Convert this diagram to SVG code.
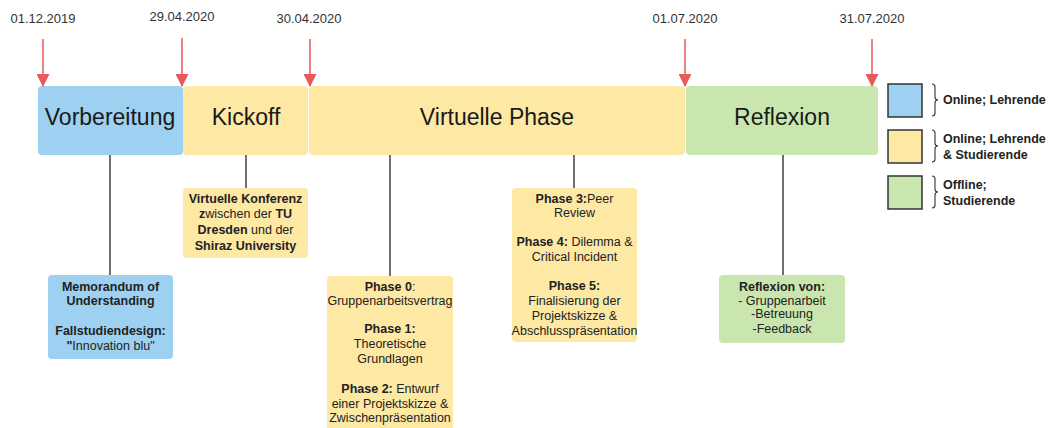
<svg xmlns="http://www.w3.org/2000/svg" width="1055" height="428" viewBox="0 0 1055 428">
  <defs>
    <style>
      .date { font-family: "Liberation Sans", Arial, sans-serif; font-size: 13px; fill: #333; text-anchor: middle; }
      .phase { font-family: "Liberation Sans", Arial, sans-serif; font-size: 23px; fill: #1a1a1a; text-anchor: middle; }
      .note { font-family: "Liberation Sans", Arial, sans-serif; font-size: 12.5px; fill: #222; text-anchor: middle; }
      .legend { font-family: "Liberation Sans", Arial, sans-serif; font-size: 12.5px; font-weight: bold; fill: #222; }
      .b { font-weight: bold; }
      .blue { fill: #9dd0f1; }
      .yellow { fill: #fde8a4; }
      .green { fill: #c9e6ae; }
      .conn { stroke: #222; stroke-width: 1.3; fill: none; }
      .marker-line { stroke: #e85a5a; stroke-width: 1.5; fill: none; }
      .swatch { stroke: #333; stroke-width: 1.5; }
      .brace { stroke: #333; stroke-width: 1.1; fill: none; }
    </style>
    <!-- triangle pointing along the line direction, tip at the line end -->
    <marker id="redhead" viewBox="0 0 13 13" markerWidth="13" markerHeight="13" refX="12" refY="6.5" orient="auto" markerUnits="userSpaceOnUse">
      <path d="M0,0 L13,6.5 L0,13 Z" fill="#e85a5a"/>
    </marker>
  </defs>

  <!-- date labels -->
  <g id="dates">
    <text class="date" x="43" y="23">01.12.2019</text>
    <text class="date" x="182" y="21">29.04.2020</text>
    <text class="date" x="309" y="23">30.04.2020</text>
    <text class="date" x="685" y="23">01.07.2020</text>
    <text class="date" x="872" y="23">31.07.2020</text>
  </g>

  <!-- timeline phases -->
  <g id="vorbereitung">
    <rect class="blue" x="38" y="86" width="145" height="69" rx="4"/>
    <text class="phase" x="110" y="125">Vorbereitung</text>
  </g>
  <g id="kickoff">
    <rect class="yellow" x="183" y="86" width="125" height="69" rx="4"/>
    <text class="phase" x="246" y="125">Kickoff</text>
  </g>
  <g id="virtuelle-phase">
    <rect class="yellow" x="309" y="86" width="376" height="69" rx="4"/>
    <text class="phase" x="497" y="125">Virtuelle Phase</text>
  </g>
  <g id="reflexion">
    <rect class="green" x="686" y="86" width="192" height="69" rx="4"/>
    <text class="phase" x="782" y="125">Reflexion</text>
  </g>

  <!-- connectors: date markers and phase-to-detail lines -->
  <g id="connectors">
    <line class="marker-line" x1="43" y1="39" x2="43" y2="86" marker-end="url(#redhead)"/>
    <line class="marker-line" x1="182" y1="38" x2="182" y2="86" marker-end="url(#redhead)"/>
    <line class="marker-line" x1="310" y1="39" x2="310" y2="86" marker-end="url(#redhead)"/>
    <line class="marker-line" x1="685" y1="39" x2="685" y2="86" marker-end="url(#redhead)"/>
    <line class="marker-line" x1="872" y1="39" x2="872" y2="86" marker-end="url(#redhead)"/>

    <line class="conn" x1="110" y1="155" x2="110" y2="276"/>
    <line class="conn" x1="246" y1="155" x2="246" y2="188"/>
    <line class="conn" x1="390" y1="155" x2="390" y2="276"/>
    <line class="conn" x1="574" y1="155" x2="574" y2="188"/>
    <line class="conn" x1="783" y1="155" x2="783" y2="276"/>
  </g>

  <!-- detail notes -->
  <g id="memorandum">
    <rect class="blue" x="48" y="275" width="125" height="84" rx="4"/>
    <text class="note" x="110.5" y="291"><tspan class="b">Memorandum of</tspan></text>
    <text class="note" x="110.5" y="305"><tspan class="b">Understanding</tspan></text>
    <text class="note" x="110.5" y="335"><tspan class="b">Fallstudiendesign:</tspan></text>
    <text class="note" x="110.5" y="350"><tspan class="b">"</tspan>Innovation blu"</text>
  </g>

  <g id="konferenz">
    <rect class="yellow" x="183" y="188" width="125" height="70" rx="4"/>
    <text class="note" x="245.5" y="203"><tspan class="b">Virtuelle Konferenz</tspan></text>
    <text class="note" x="245.5" y="218"><tspan class="b">z</tspan>wischen der <tspan class="b">TU</tspan></text>
    <text class="note" x="245.5" y="234"><tspan class="b">Dresden</tspan> und der</text>
    <text class="note" x="245.5" y="250"><tspan class="b">Shiraz University</tspan></text>
  </g>

  <g id="phasen-0-2">
    <rect class="yellow" x="327" y="276" width="126" height="160" rx="4"/>
    <text class="note" x="390" y="291"><tspan class="b">Phase 0</tspan>:</text>
    <text class="note" x="390" y="305">Gruppenarbeitsvertrag</text>
    <text class="note" x="390" y="333"><tspan class="b">Phase 1:</tspan></text>
    <text class="note" x="390" y="348">Theoretische</text>
    <text class="note" x="390" y="363">Grundlagen</text>
    <text class="note" x="390" y="393"><tspan class="b">Phase 2:</tspan> Entwurf</text>
    <text class="note" x="390" y="408">einer Projektskizze &amp;</text>
    <text class="note" x="390" y="422">Zwischenpräsentation</text>
  </g>

  <g id="phasen-3-5">
    <rect class="yellow" x="512" y="188" width="125" height="154" rx="4"/>
    <text class="note" x="574.5" y="203"><tspan class="b">Phase 3:</tspan>Peer</text>
    <text class="note" x="574.5" y="217">Review</text>
    <text class="note" x="574.5" y="246"><tspan class="b">Phase 4:</tspan> Dilemma &amp;</text>
    <text class="note" x="574.5" y="261">Critical Incident</text>
    <text class="note" x="574.5" y="290"><tspan class="b">Phase 5:</tspan></text>
    <text class="note" x="574.5" y="305">Finalisierung der</text>
    <text class="note" x="574.5" y="320">Projektskizze &amp;</text>
    <text class="note" x="574.5" y="335">Abschlusspräsentation</text>
  </g>

  <g id="reflexion-von">
    <rect class="green" x="719" y="275" width="126" height="68" rx="4"/>
    <text class="note" x="782" y="291"><tspan class="b">Reflexion von:</tspan></text>
    <text class="note" x="782" y="305">- Gruppenarbeit</text>
    <text class="note" x="782" y="318">-Betreuung</text>
    <text class="note" x="782" y="333">-Feedback</text>
  </g>

  <!-- legend -->
  <g id="legend-online-lehrende">
    <rect class="blue swatch" x="888" y="84" width="34" height="33"/>
    <path class="brace" d="M932,84 Q935,84 935,87 L935,97 Q935,100 938,100 Q935,100 935,103 L935,113 Q935,116 932,116"/>
    <text class="legend" x="943" y="104">Online; Lehrende</text>
  </g>
  <g id="legend-online-beide">
    <rect class="yellow swatch" x="888" y="130" width="34" height="33"/>
    <path class="brace" d="M932,130 Q935,130 935,133 L935,143 Q935,146 938,146 Q935,146 935,149 L935,159 Q935,162 932,162"/>
    <text class="legend" x="943" y="143">Online; Lehrende</text>
    <text class="legend" x="943" y="159">&amp; Studierende</text>
  </g>
  <g id="legend-offline">
    <rect class="green swatch" x="888" y="176" width="34" height="33"/>
    <path class="brace" d="M932,176 Q935,176 935,179 L935,189 Q935,192 938,192 Q935,192 935,195 L935,205 Q935,208 932,208"/>
    <text class="legend" x="943" y="189">Offline;</text>
    <text class="legend" x="943" y="205">Studierende</text>
  </g>
</svg>
